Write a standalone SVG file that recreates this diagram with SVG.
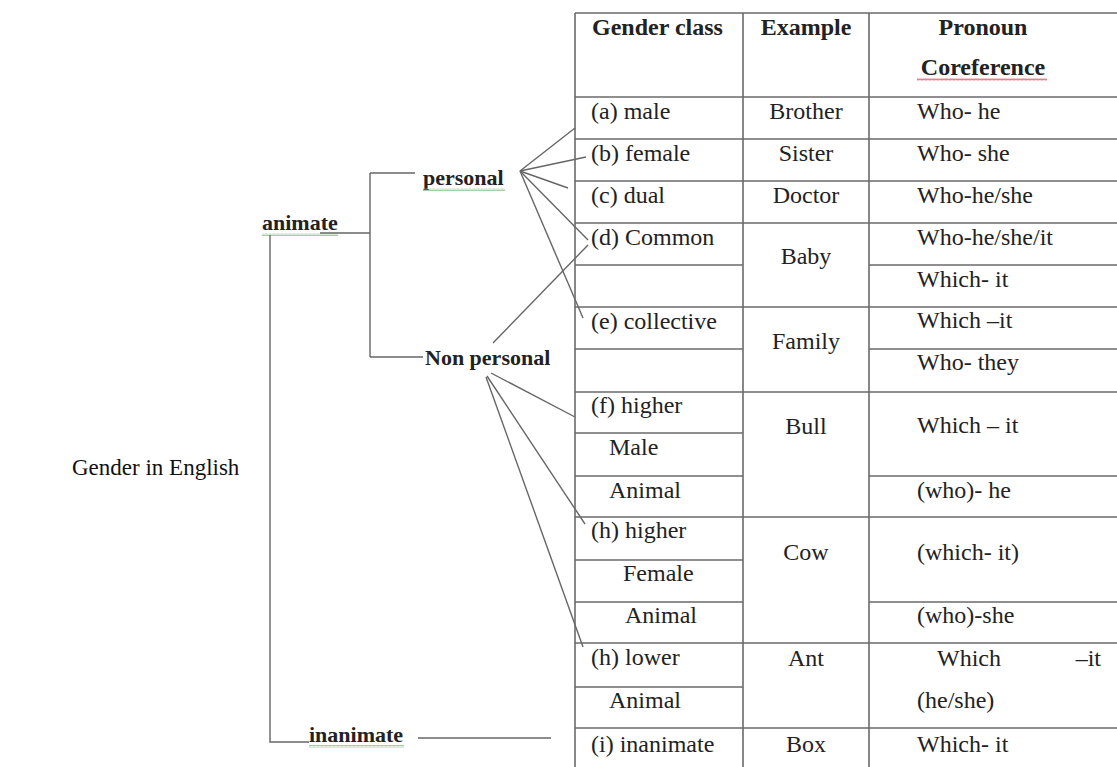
<svg xmlns="http://www.w3.org/2000/svg" width="1117" height="767" viewBox="0 0 1117 767">
  <defs>
    <style>
      .t { font-family: "Liberation Serif", "Times New Roman", serif; font-size: 24px; fill: #222; }
      .hb { font-weight: bold; }
      .c { text-anchor: middle; }
      .lbl { font-family: "Liberation Serif", "Times New Roman", serif; font-size: 22px; font-weight: bold; fill: #222; }
      .title { font-family: "Liberation Serif", "Times New Roman", serif; font-size: 23px; fill: #111; }
      .grid line { stroke: #6a6a6a; stroke-width: 1.6; }
      .conn line, .conn polyline { stroke: #666; stroke-width: 1.4; fill: none; }
    </style>
    <pattern id="wavyGreen" width="4" height="3" patternUnits="userSpaceOnUse">
      <path d="M0 2.5 L1 0.5 L2 2.5 L3 0.5 L4 2.5" stroke="#8cc08c" stroke-width="0.8" fill="none"/>
    </pattern>
    <pattern id="wavyRed" width="4" height="3" patternUnits="userSpaceOnUse">
      <path d="M0 2.5 L1 0.5 L2 2.5 L3 0.5 L4 2.5" stroke="#e06070" stroke-width="0.8" fill="none"/>
    </pattern>
  </defs>
  <rect width="1117" height="767" fill="#ffffff"/>

  <!-- Title -->
  <g id="title">
    <text class="title" x="72" y="475">Gender in English</text>
  </g>

  <!-- Tree nodes -->
  <g id="node-animate">
    <text class="lbl" x="262" y="230">animate</text>
    <rect x="262" y="233" width="76" height="3" fill="url(#wavyGreen)"/>
  </g>
  <g id="node-personal">
    <text class="lbl" x="423" y="185">personal</text>
    <rect x="423" y="188" width="82" height="3" fill="url(#wavyGreen)"/>
  </g>
  <g id="node-nonpersonal">
    <text class="lbl" x="425" y="365">Non personal</text>
  </g>
  <g id="node-inanimate">
    <text class="lbl" x="309" y="742">inanimate</text>
    <rect x="309" y="745" width="95" height="3" fill="url(#wavyGreen)"/>
  </g>

  <!-- Connectors -->
  <g id="connectors" class="conn">
    <line x1="320" y1="233" x2="370" y2="233"/>
    <line x1="370" y1="173" x2="370" y2="357"/>
    <line x1="370" y1="173" x2="415" y2="173"/>
    <line x1="370" y1="357" x2="423" y2="357"/>
    <polyline points="270,235 270,742 309,742"/>
    <line x1="418" y1="738" x2="551" y2="738"/>
    <!-- personal fan -->
    <line x1="520" y1="171" x2="575" y2="128"/>
    <line x1="520" y1="171" x2="586" y2="157"/>
    <line x1="520" y1="171" x2="568" y2="188"/>
    <line x1="520" y1="171" x2="588" y2="240"/>
    <line x1="520" y1="171" x2="583" y2="318"/>
    <!-- non personal fan -->
    <line x1="493" y1="343" x2="588" y2="245"/>
    <line x1="491" y1="373" x2="575" y2="417"/>
    <line x1="487" y1="376" x2="585" y2="524"/>
    <line x1="486" y1="377" x2="583" y2="647"/>
  </g>

  <!-- Table -->
  <g id="table">
    <g class="grid">
      <line x1="575" y1="13" x2="575" y2="767"/>
      <line x1="743" y1="13" x2="743" y2="767"/>
      <line x1="869" y1="13" x2="869" y2="767"/>
      <line x1="575" y1="13" x2="1117" y2="13"/>
      <line x1="575" y1="97" x2="1117" y2="97"/>
      <line x1="575" y1="139" x2="1117" y2="139"/>
      <line x1="575" y1="181" x2="1117" y2="181"/>
      <line x1="575" y1="223" x2="1117" y2="223"/>
      <line x1="575" y1="265" x2="743" y2="265"/>
      <line x1="869" y1="265" x2="1117" y2="265"/>
      <line x1="575" y1="307" x2="1117" y2="307"/>
      <line x1="575" y1="349" x2="743" y2="349"/>
      <line x1="869" y1="349" x2="1117" y2="349"/>
      <line x1="575" y1="392" x2="1117" y2="392"/>
      <line x1="575" y1="433" x2="743" y2="433"/>
      <line x1="575" y1="476" x2="743" y2="476"/>
      <line x1="869" y1="476" x2="1117" y2="476"/>
      <line x1="575" y1="517" x2="1117" y2="517"/>
      <line x1="575" y1="560" x2="743" y2="560"/>
      <line x1="575" y1="602" x2="743" y2="602"/>
      <line x1="869" y1="602" x2="1117" y2="602"/>
      <line x1="575" y1="643" x2="1117" y2="643"/>
      <line x1="575" y1="687" x2="743" y2="687"/>
      <line x1="575" y1="728" x2="1117" y2="728"/>
    </g>

    <g id="header">
      <text class="t hb" x="592" y="35">Gender class</text>
      <text class="t hb c" x="806" y="35">Example</text>
      <text class="t hb c" x="983" y="35">Pronoun</text>
      <text class="t hb c" x="983" y="75">Coreference</text>
      <rect x="917" y="78" width="130" height="3" fill="url(#wavyRed)"/>
    </g>

    <g id="col-class">
      <text class="t" x="591" y="119">(a) male</text>
      <text class="t" x="591" y="161">(b) female</text>
      <text class="t" x="591" y="203">(c) dual</text>
      <text class="t" x="591" y="245">(d) Common</text>
      <text class="t" x="591" y="329">(e) collective</text>
      <text class="t" x="591" y="413">(f) higher</text>
      <text class="t" x="609" y="455">Male</text>
      <text class="t" x="609" y="498">Animal</text>
      <text class="t" x="591" y="538">(h) higher</text>
      <text class="t" x="623" y="581">Female</text>
      <text class="t" x="625" y="623">Animal</text>
      <text class="t" x="591" y="665">(h) lower</text>
      <text class="t" x="609" y="708">Animal</text>
      <text class="t" x="591" y="752">(i) inanimate</text>
    </g>

    <g id="col-example">
      <text class="t c" x="806" y="119">Brother</text>
      <text class="t c" x="806" y="161">Sister</text>
      <text class="t c" x="806" y="203">Doctor</text>
      <text class="t c" x="806" y="264">Baby</text>
      <text class="t c" x="806" y="349">Family</text>
      <text class="t c" x="806" y="434">Bull</text>
      <text class="t c" x="806" y="560">Cow</text>
      <text class="t c" x="806" y="666">Ant</text>
      <text class="t c" x="806" y="752">Box</text>
    </g>

    <g id="col-pronoun">
      <text class="t" x="917" y="119">Who- he</text>
      <text class="t" x="917" y="161">Who- she</text>
      <text class="t" x="917" y="203">Who-he/she</text>
      <text class="t" x="917" y="245">Who-he/she/it</text>
      <text class="t" x="917" y="287">Which- it</text>
      <text class="t" x="917" y="328">Which –it</text>
      <text class="t" x="917" y="370">Who- they</text>
      <text class="t" x="917" y="433">Which – it</text>
      <text class="t" x="917" y="498">(who)- he</text>
      <text class="t" x="917" y="560">(which- it)</text>
      <text class="t" x="917" y="623">(who)-she</text>
      <text class="t" x="937" y="666">Which</text>
      <text class="t" x="1101" y="666" text-anchor="end">–it</text>
      <text class="t" x="917" y="708">(he/she)</text>
      <text class="t" x="917" y="752">Which- it</text>
    </g>
  </g>
</svg>
